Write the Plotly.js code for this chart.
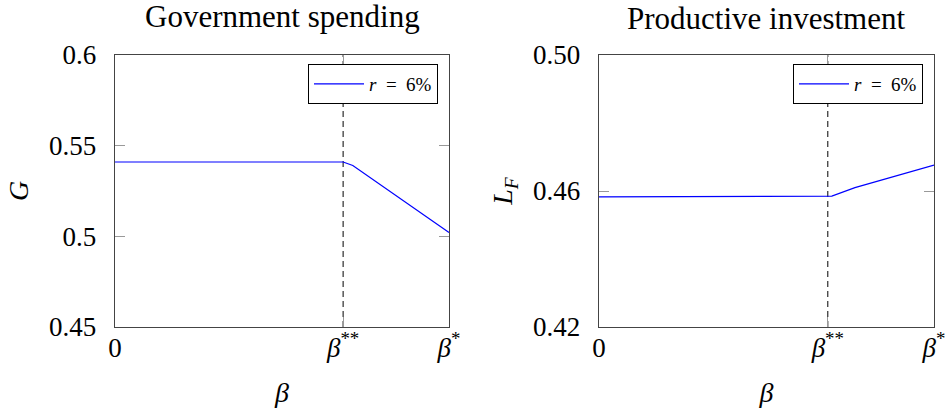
<!DOCTYPE html>
<html>
<head>
<meta charset="utf-8">
<script src="https://cdn.plot.ly/plotly-3.0.1.min.js"></script>
<style>
  html, body { margin: 0; padding: 0; background: #fff; }
  #chart { width: 950px; height: 416px; }
</style>
</head>
<body>
<div id="chart"></div>
<script>
// beta axis, scaled so that beta* = 1
const betaTicks = [0, 0.683, 1];
const betaTickText = ['0', '<i>β</i><sup>**</sup>', '<i>β</i><sup>*</sup>'];
const betaStarStar = 0.683;

// Government spending G
const gBeta = [0, 0.683, 0.712, 1];
const gValues = [0.541, 0.541, 0.5391, 0.5021];
const gTicks = [0.45, 0.5, 0.55, 0.6];
const gTickText = ['0.45', '0.5', '0.55', '0.6'];

// Productive investment L_F
const lfBeta = [0, 0.684, 0.695, 0.764, 0.893, 1];
const lfValues = [0.4583, 0.4583, 0.4585, 0.4610, 0.4647, 0.4676];
const lfTicks = [0.42, 0.46, 0.50];
const lfTickText = ['0.42', '0.46', '0.50'];

const seriesName = '<i>r</i>  =  6%';
const serif = 'Liberation Serif';

function makeTraces() {
    const blue = {color: '#0000ff', width: 1.2};
    const dashed = {color: '#000', width: 1, dash: '6px,4px'};
    return [
        {x: [betaStarStar, betaStarStar], y: [gTicks[0], gTicks[gTicks.length - 1]],
         mode: 'lines', line: dashed, showlegend: false, hoverinfo: 'skip', xaxis: 'x', yaxis: 'y'},
        {x: gBeta, y: gValues, mode: 'lines', line: blue, name: seriesName,
         xaxis: 'x', yaxis: 'y', legend: 'legend'},
        {x: [betaStarStar, betaStarStar], y: [lfTicks[0], lfTicks[lfTicks.length - 1]],
         mode: 'lines', line: dashed, showlegend: false, hoverinfo: 'skip', xaxis: 'x2', yaxis: 'y2'},
        {x: lfBeta, y: lfValues, mode: 'lines', line: blue, name: seriesName,
         xaxis: 'x2', yaxis: 'y2', legend: 'legend2'}
    ];
}

function axisCommon() {
    return {
        showgrid: false, zeroline: false,
        showline: true, linecolor: '#444', linewidth: 1.3, mirror: 'ticks',
        ticks: 'inside', ticklen: 10, tickcolor: '#999', tickwidth: 1,
        tickfont: {family: serif, size: 27, color: '#000'},
        tickmode: 'array'
    };
}

function makeLayout() {
    const yDom = [1 - 327 / 416, 1 - 55 / 416];
    const legendCommon = {
        bgcolor: '#fff', bordercolor: '#000', borderwidth: 1,
        font: {family: serif, size: 19, color: '#000'},
        xanchor: 'right', yanchor: 'top', yref: 'paper', xref: 'paper',
        itemwidth: 50, tracegroupgap: 0
    };
    return {
        width: 950, height: 416,
        margin: {l: 0, r: 0, t: 0, b: 0},
        paper_bgcolor: '#fff', plot_bgcolor: '#fff',
        font: {family: serif, color: '#000', size: 18},
        xaxis: Object.assign(axisCommon(), {
            domain: [115 / 950, 449 / 950], range: [0, 1], anchor: 'y',
            tickvals: betaTicks, ticktext: betaTickText, ticklabelstandoff: -4,
            title: {text: '<i>β</i>', font: {family: serif, size: 28}, standoff: 20}
        }),
        yaxis: Object.assign(axisCommon(), {
            domain: yDom, range: [0.45, 0.6], anchor: 'x',
            tickvals: gTicks, ticktext: gTickText, ticklabelstandoff: 12,
            title: {text: '<i>G</i>', font: {family: serif, size: 28}, standoff: 12}
        }),
        xaxis2: Object.assign(axisCommon(), {
            domain: [599 / 950, 934 / 950], range: [0, 1], anchor: 'y2',
            tickvals: betaTicks, ticktext: betaTickText, ticklabelstandoff: -4,
            title: {text: '<i>β</i>', font: {family: serif, size: 28}, standoff: 20}
        }),
        yaxis2: Object.assign(axisCommon(), {
            domain: yDom, range: [0.42, 0.50], anchor: 'x2',
            tickvals: lfTicks, ticktext: lfTickText, ticklabelstandoff: 12,
            title: {text: '<i>L</i><sub><i>F</i></sub>', font: {family: serif, size: 28}, standoff: 12}
        }),
        legend: Object.assign({}, legendCommon, {x: 438 / 950, y: 1 - 64 / 416}),
        legend2: Object.assign({}, legendCommon, {x: 923 / 950, y: 1 - 64 / 416}),
        annotations: [
            {text: 'Government spending', x: 282 / 950, y: 1 - 17 / 416, xref: 'paper', yref: 'paper',
             showarrow: false, xanchor: 'center', yanchor: 'middle',
             font: {family: serif, size: 31, color: '#000'}},
            {text: 'Productive investment', x: 766 / 950, y: 1 - 19 / 416, xref: 'paper', yref: 'paper',
             showarrow: false, xanchor: 'center', yanchor: 'middle',
             font: {family: serif, size: 31, color: '#000'}}
        ],
        showlegend: true
    };
}

document.addEventListener('DOMContentLoaded', function() {
    Plotly.newPlot('chart', makeTraces(), makeLayout(), {displayModeBar: false, staticPlot: true});
});
</script>
</body>
</html>
